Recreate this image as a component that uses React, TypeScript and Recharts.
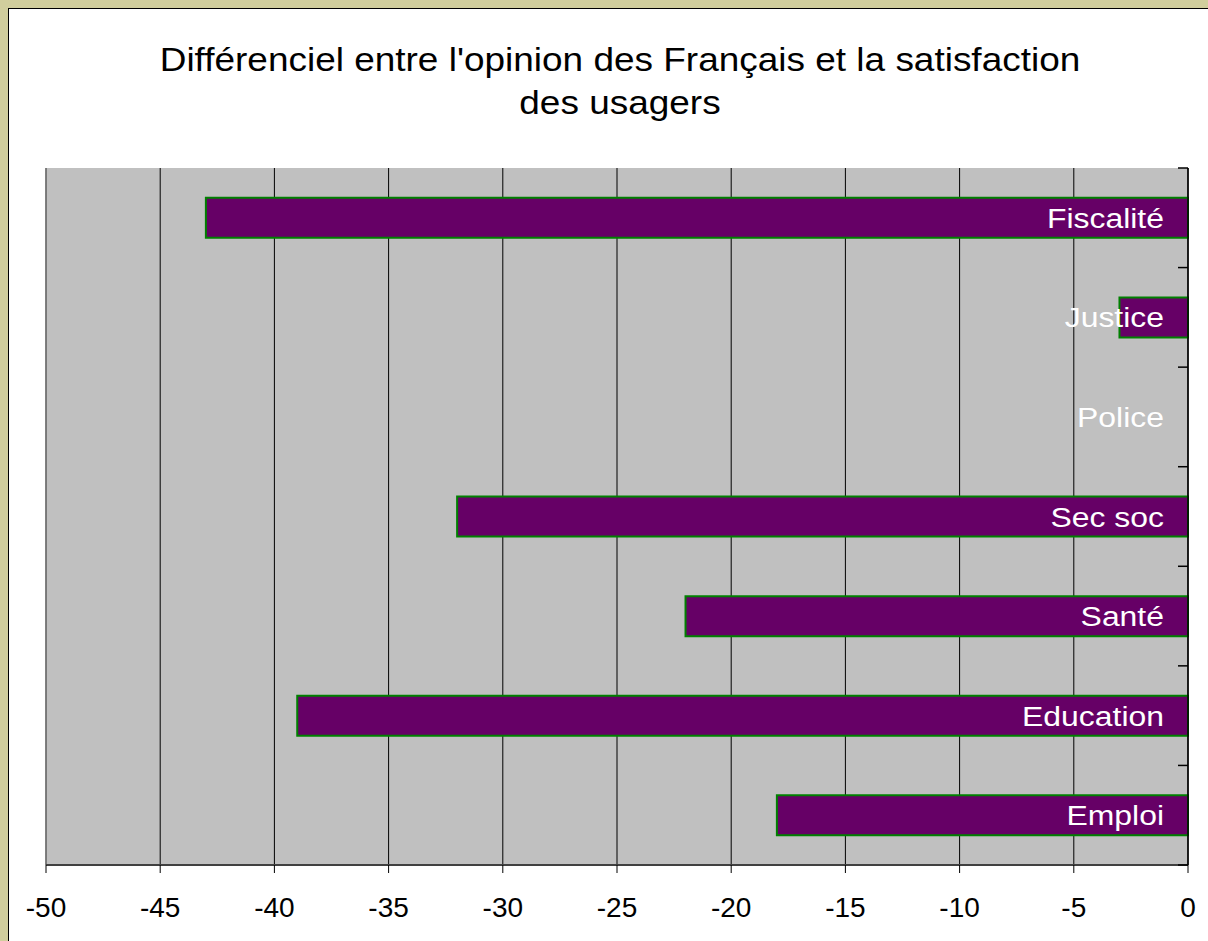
import { BarChart, Bar, XAxis, YAxis, CartesianGrid, ReferenceLine } from "recharts";

const CATEGORIES = ["Fiscalité", "Justice", "Police", "Sec soc", "Santé", "Education", "Emploi"];
const VALUES = [-43, -3, 0, -32, -22, -39, -18];
const X_TICKS = [-50, -45, -40, -35, -30, -25, -20, -15, -10, -5, 0];

const DATA = CATEGORIES.map((name, i) => ({ name, value: VALUES[i] }));

const W = 1208;
const H = 941;
const MARGIN = { top: 168, right: 0, bottom: 0, left: 46 };
const X_AXIS_H = 76;
const Y_AXIS_W = 20;
const BAND = (H - MARGIN.top - X_AXIS_H) / CATEGORIES.length;
const FONT = '"Liberation Sans", Arial, sans-serif';

// category names sit inside the plot, right-aligned against the axis
const CategoryTick = (props: any) => {
  const { x, y, payload, index } = props;
  const half = BAND / 2;
  return (
    <g>
      <line x1={x - 10} x2={x} y1={y - half} y2={y - half} stroke="#000" strokeWidth={1.5} />
      {index === CATEGORIES.length - 1 && (
        <line x1={x - 10} x2={x} y1={y + half} y2={y + half} stroke="#000" strokeWidth={1.5} />
      )}
      <text
        transform={`translate(${x - 24},${y}) scale(1.14,1)`}
        dy="0.36em"
        textAnchor="end"
        fill="#fff"
        fontSize={28}
        fontFamily={FONT}
      >
        {payload.value}
      </text>
    </g>
  );
};

export default function App() {
  return (
    <div
      style={{
        position: "absolute",
        left: 0,
        top: 0,
        width: W,
        height: H,
        background: "#D1CE9D",
        overflow: "hidden",
        fontFamily: FONT,
      }}
    >
      <div
        style={{
          position: "absolute",
          left: 8,
          top: 8,
          width: W + 20,
          height: H + 20,
          borderLeft: "1px solid #000",
          borderTop: "1px solid #000",
          background: "#fff",
        }}
      />
      <div
        style={{
          position: "absolute",
          left: 20,
          top: 38,
          width: 1200,
          textAlign: "center",
          fontSize: 34,
          lineHeight: "43px",
          color: "#000",
          transform: "scaleX(1.087)",
          transformOrigin: "600px 0",
        }}
      >
        Différenciel entre l'opinion des Français et la satisfaction
        <br />
        des usagers
      </div>
      <div style={{ position: "absolute", left: 0, top: 0 }}>
        <BarChart width={W} height={H} data={DATA} layout="vertical" margin={MARGIN} barCategoryGap="30%">
          <CartesianGrid horizontal={false} stroke="#000" fill="#C0C0C0" fillOpacity={1} />
          <XAxis
            type="number"
            domain={[-50, 0]}
            ticks={X_TICKS}
            interval={0}
            height={X_AXIS_H}
            axisLine={{ stroke: "#404040", strokeWidth: 2 }}
            tickLine={{ stroke: "#000" }}
            tickSize={8}
            tickMargin={24}
            tick={{ fill: "#000", fontSize: 28, fontFamily: FONT }}
          />
          <XAxis
            xAxisId="top"
            orientation="top"
            type="number"
            domain={[-50, 0]}
            height={0}
            tick={false}
            tickLine={false}
            axisLine={{ stroke: "#808080", strokeWidth: 1.5 }}
          />
          <YAxis
            type="category"
            dataKey="name"
            orientation="right"
            width={Y_AXIS_W}
            axisLine={{ stroke: "#000", strokeWidth: 1.5 }}
            tickLine={false}
            tickSize={0}
            tickMargin={0}
            interval={0}
            tick={<CategoryTick />}
          />
          <ReferenceLine x={-50} stroke="#808080" strokeWidth={1.5} />
          <Bar dataKey="value" fill="#660066" stroke="#008000" strokeWidth={2} isAnimationActive={false} />
        </BarChart>
      </div>
    </div>
  );
}
